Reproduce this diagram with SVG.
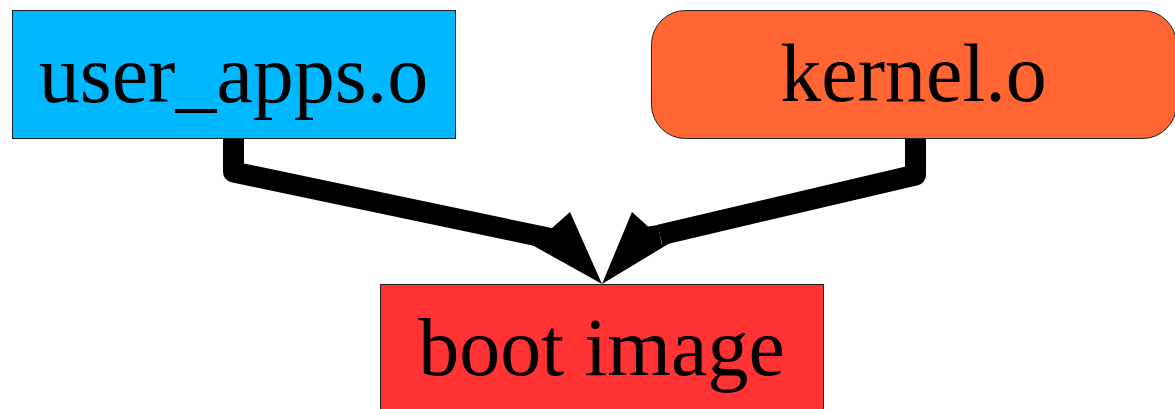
<svg xmlns="http://www.w3.org/2000/svg" width="1175" height="409" viewBox="0 0 1175 409">
<style>
.box{stroke:#222;stroke-width:1}
.lbl{font-family:"Liberation Serif","Times New Roman",serif;font-size:82px;fill:#000;text-anchor:middle}
.conn{fill:none;stroke:#000;stroke-width:21;stroke-linejoin:round;stroke-linecap:butt}
.head{fill:#000;stroke:none}
</style>
<rect width="1175" height="409" fill="#fff"/>
<g id="connectors">
<path class="conn" d="M233.5,138 L233.5,172 L545,237.4"/>
<polygon class="head" points="547,227 552,228 570,212 602,284 533,245.5"/>
<path class="conn" d="M915.5,138 L915.5,175 L660,235"/>
<polygon class="head" points="658,225 648,226.5 632,212 602,284 670,243 662,245"/>
</g>
<g id="user_apps">
<rect class="box" x="12.5" y="10.5" width="443" height="128" fill="#00B8FF"/>
<text class="lbl" x="233.5" y="102">user_apps.o</text>
</g>
<g id="kernel">
<rect class="box" x="651.5" y="10.5" width="525" height="128" rx="34" ry="34" fill="#FF6633"/>
<text class="lbl" x="913.5" y="101">kernel.o</text>
</g>
<g id="boot_image">
<rect class="box" x="380.5" y="284.5" width="443" height="130" fill="#FF3333"/>
<text class="lbl" x="601.5" y="375">boot image</text>
</g>
</svg>
